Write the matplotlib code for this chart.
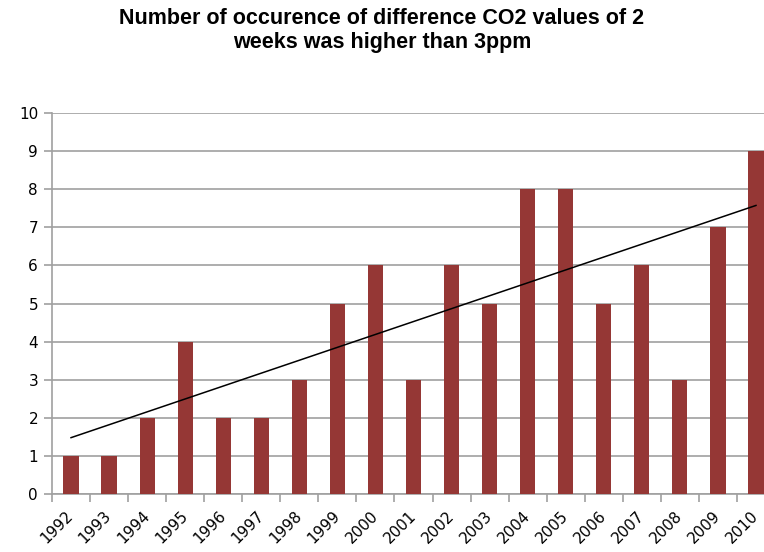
import numpy as np
import matplotlib.pyplot as plt

years = [str(y) for y in range(1992, 2011)]
counts = [1, 1, 2, 4, 2, 2, 3, 5, 6, 3, 6, 5, 8, 8, 5, 6, 3, 7, 9]

fig = plt.figure(figsize=(7.64, 5.52), dpi=100)
ax = fig.add_axes([52/764, 58/552, 723/764, 381/552])

x = np.arange(len(years))
ax.bar(x, counts, width=0.4, color='#953735', zorder=3)

# linear trend
k, b = np.polyfit(x, counts, 1)
ax.plot(x, k*x + b, color='black', lw=1.1, zorder=4)

ax.set_xlim(-0.5, len(years) - 0.5)
ax.set_ylim(0, 10)
ax.set_yticks(range(0, 11))
ax.yaxis.grid(True, color='#a0a0a0', lw=1.2, zorder=0)
ax.set_xticks(x)
ax.set_xticklabels(years, rotation=45, ha='right', va='center', rotation_mode='anchor')
ax.set_xticks(np.arange(-0.5, len(years)), minor=True)
ax.tick_params(axis='x', which='major', length=0, pad=14, labelsize=11)
ax.tick_params(axis='x', which='minor', length=6, color='#a0a0a0', width=1.2)
ax.tick_params(axis='y', length=6, color='#a0a0a0', width=1.2, labelsize=11, pad=4)

for s in ['top', 'right']:
    ax.spines[s].set_visible(False)
for s in ['left', 'bottom']:
    ax.spines[s].set_color('#a0a0a0')
    ax.spines[s].set_linewidth(1.2)

fig.text(0.5, 0.985, 'Number of occurence of difference CO2 values of 2\nweeks was higher than 3ppm',
         ha='center', va='top', fontsize=15.5, fontweight='bold',
         family='Liberation Sans', linespacing=1.2)

fig.savefig('out.png', dpi=100)
